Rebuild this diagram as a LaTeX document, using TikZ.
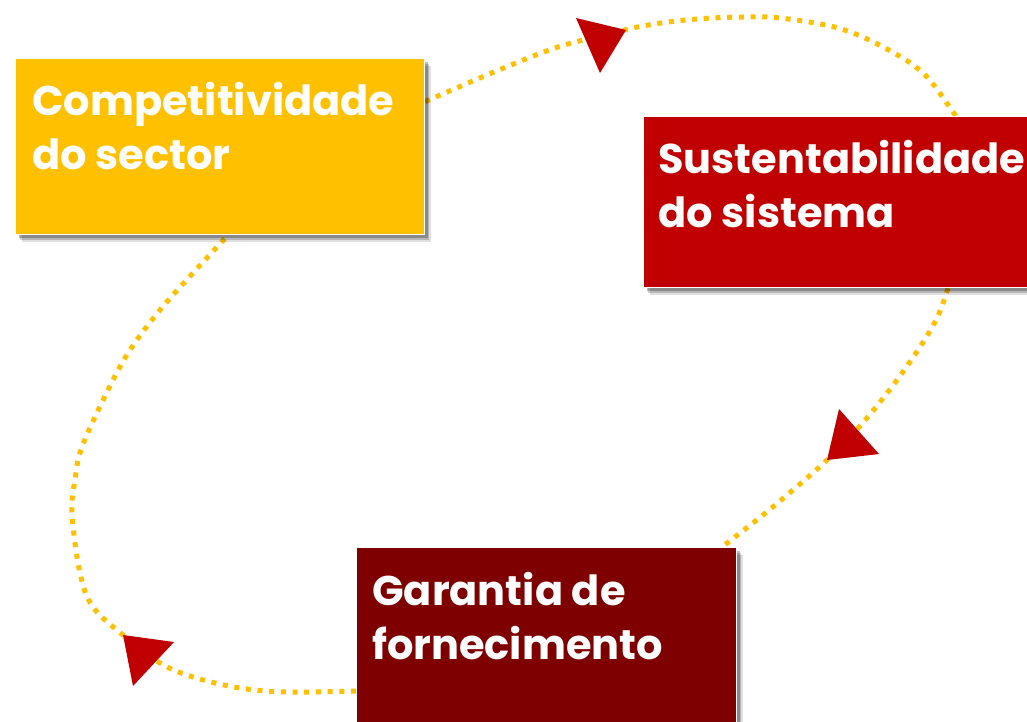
\documentclass[tikz,border=0pt]{standalone}
\usepackage{fontspec}
\setmainfont{Poppins}
\usetikzlibrary{shadows,backgrounds}
\definecolor{cyellow}{HTML}{FFC000}
\definecolor{cred}{HTML}{C00000}
\definecolor{cdark}{HTML}{7F0000}
\tikzset{
  box/.style={draw=white, line width=1.2pt, anchor=north west, inner sep=0pt,
    drop shadow={shadow xshift=6pt, shadow yshift=-7pt, opacity=0.12, fill=black},
    drop shadow={shadow xshift=4.5pt, shadow yshift=-5.5pt, opacity=0.18, fill=black},
    drop shadow={shadow xshift=3pt, shadow yshift=-3.5pt, opacity=0.25, fill=black}},
  lbl/.style={text=white, font=\fontsize{41.5}{54}\selectfont\bfseries, align=left,
    anchor=north west, inner sep=0pt},
  cycleline/.style={draw=cyellow, line width=5pt, dash pattern=on 5pt off 6.7pt},
  tri/.style={fill=cred}
}
\begin{document}
\begin{tikzpicture}[x=1pt,y=-1pt]
\clip (0,0) rectangle (1027,721);
% boxes
\node[box, fill=cyellow, minimum width=409pt, minimum height=176pt] (Y) at (15,58) {};
\node[box, fill=cred, minimum width=400pt, minimum height=171pt] (R) at (643,116) {};
\node[box, fill=cdark, minimum width=380pt, minimum height=190pt] (D) at (356,547) {};
% labels
\node[lbl] (Yt) at ([xshift=17pt,yshift=-24pt]Y.north west) {Competitividade\\do sector};
\node[lbl] (Rt) at ([xshift=15pt,yshift=-24pt]R.north west) {Sustentabilidade\\do sistema};
\node[lbl] (Dt) at ([xshift=16pt,yshift=-25pt]D.north west) {Garantia de\\fornecimento};
\begin{pgfonlayer}{background}
\fill[white] (0,0) rectangle (1027,721);
% dotted cycle segments
\draw[cycleline] plot[smooth, tension=0.6] coordinates {([yshift=45pt]Y.east) (494,72) (555,48) (600,36) (648,25) (697,19) (743,17) (780,18) (838,28) (883,47) (923,73) (953,112) ([xshift=312pt]R.north west)};
\draw[cycleline] plot[smooth, tension=0.6] coordinates {([xshift=305pt]R.south west) (937,318) (918,350) (891,388) (860,426) (827,460) (800,484) (763,515) ([xshift=366pt]D.north west)};
\draw[cycleline] plot[smooth, tension=0.6] coordinates {([yshift=-144pt]D.north west) (288,692) (240,688) (193,677) (160,663) (123,635) (93,607) (80,573) (72,513) (75,480) (82,447) (108,390) (130,350) (160,310) (193,273) ([xshift=213pt]Y.south west)};
% arrowheads
\fill[tri] (576,18) -- (626,30) -- (600,73) -- cycle;
\fill[tri] (839,409) -- (879,454) -- (827,460) -- cycle;
\fill[tri] (123,635) -- (174,642) -- (133,686) -- cycle;
\end{pgfonlayer}
\end{tikzpicture}
\end{document}
